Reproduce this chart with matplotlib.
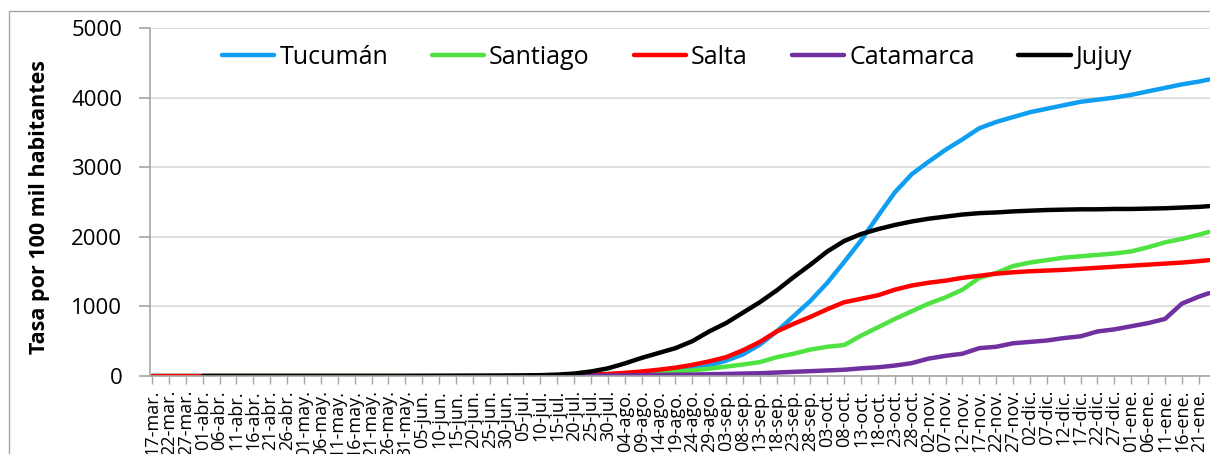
import datetime as dt
import numpy as np
import matplotlib.pyplot as plt
from matplotlib.patches import Rectangle

plt.rcParams['font.family'] = ['Open Sans', 'DejaVu Sans']

# fechas cada 5 dias desde 17-mar-2020 (ultimo punto 24-ene-2021)
meses = ['ene', 'feb', 'mar', 'abr', 'may', 'jun', 'jul', 'ago', 'sep', 'oct', 'nov', 'dic']
inicio = dt.date(2020, 3, 17)
dias = list(range(0, 311, 5)) + [313]
fechas = [inicio + dt.timedelta(days=d) for d in dias]
etiquetas = [f"{f.day:02d}-{meses[f.month - 1]}." for f in fechas[:-1]]

# tasa por 100 mil habitantes
tucuman = [0] * 22 + [1, 2, 4, 6, 10, 15, 25, 35, 50, 70, 100, 150, 220, 310, 450, 640,
                      860, 1080, 1340, 1640, 1950, 2300, 2640, 2900, 3080, 3250, 3400, 3560,
                      3650, 3720, 3790, 3840, 3890, 3940, 3970, 4000, 4040, 4090, 4140, 4190,
                      4230, 4260]
santiago = [0] * 22 + [1, 2, 4, 6, 10, 15, 20, 30, 45, 60, 80, 105, 135, 165, 200, 270,
                       320, 380, 420, 445, 580, 700, 820, 930, 1040, 1130, 1240, 1410,
                       1480, 1580, 1630, 1665, 1700, 1720, 1740, 1760, 1790, 1850, 1920, 1970,
                       2030, 2070]
salta = [0] * 22 + [3, 5, 8, 12, 20, 30, 45, 65, 90, 120, 160, 210, 270, 370, 490, 640,
                    750, 850, 960, 1060, 1110, 1160, 1240, 1300, 1340, 1370, 1410, 1440,
                    1470, 1490, 1505, 1515, 1525, 1540, 1555, 1570, 1585, 1600, 1615, 1630,
                    1650, 1665]
catamarca = [np.nan] * 22 + [0, 1, 2, 3, 5, 7, 10, 12, 15, 18, 20, 25, 30, 35, 40, 50,
                             60, 70, 80, 90, 110, 125, 150, 185, 250, 290, 320, 400,
                             420, 470, 490, 510, 545, 570, 640, 670, 715, 760, 820, 1040,
                             1140, 1190]
jujuy = [np.nan] * 3 + [0] * 13 + [1, 2, 3, 4, 5, 6, 8, 12, 20, 35, 65, 110, 180, 260,
                                   330, 400, 500, 640, 760, 910, 1060, 1230, 1420, 1600,
                                   1790, 1940, 2040, 2110, 2170, 2220, 2260, 2290, 2320,
                                   2340, 2350, 2365, 2375, 2385, 2390, 2395, 2395, 2400,
                                   2400, 2405, 2410, 2420, 2430, 2440]

series = [("Tucumán", tucuman, "#109ef0"),
          ("Santiago", santiago, "#4fe341"),
          ("Salta", salta, "#ff0000"),
          ("Catamarca", catamarca, "#7030a0"),
          ("Jujuy", jujuy, "#000000")]

fig = plt.figure(figsize=(12.1, 4.54), dpi=100)
ax = fig.add_axes([150 / 1210, 78 / 454, 1065 / 1210, 348 / 454])

for nombre, valores, color in series:
    ax.plot(dias, valores, color=color, lw=3.2, label=nombre, solid_capstyle='round')

ax.set_xlim(-0.6, 314.8)
ax.set_ylim(0, 5000)
ax.set_yticks(np.arange(0, 5001, 1000))
ax.set_xticks(dias[:-1])
ax.set_xticklabels(etiquetas, rotation=90, ha='center', va='top')

ax.tick_params(axis='y', labelsize=16, length=8, width=1.2, color='#a6a6a6', pad=12)
ax.tick_params(axis='x', labelsize=13, length=6, width=1, color='#a6a6a6', pad=4)
ax.grid(axis='y', color='#d9d9d9', lw=1.2)
ax.set_axisbelow(True)
for lado in ['top', 'right']:
    ax.spines[lado].set_visible(False)
for lado in ['left', 'bottom']:
    ax.spines[lado].set_color('#a6a6a6')
    ax.spines[lado].set_linewidth(1.2)

fig.text(40 / 1210, 1 - 207 / 454, "Tasa por 100 mil habitantes", rotation=90,
         ha='center', va='center', fontsize=15.5, fontweight='bold')

ax.legend(loc='center', bbox_to_anchor=(677 / 1210, 1 - 57 / 454),
          bbox_transform=fig.transFigure, ncol=5, frameon=False, fontsize=18,
          handlelength=2.1, handletextpad=0.2, columnspacing=1.75)

# borde exterior del grafico
fig.add_artist(Rectangle((9 / 1210, -0.1), 1.2, 1.1 - 11 / 454, transform=fig.transFigure,
                         fill=False, edgecolor='#a6a6a6', lw=1))

fig.savefig("out.png", dpi=100)
